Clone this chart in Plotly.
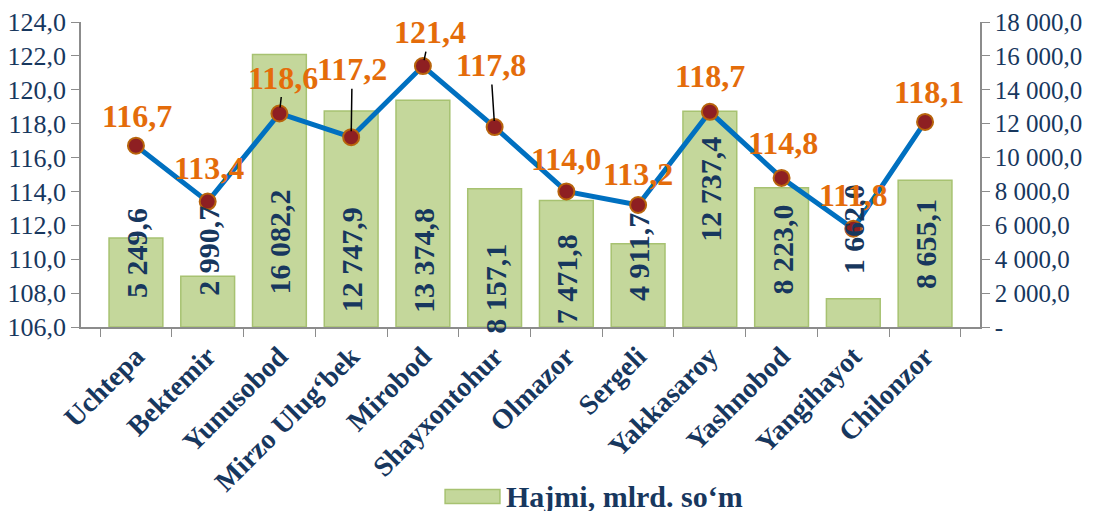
import plotly.graph_objects as go

# data
districts = ["Uchtepa", "Bektemir", "Yunusobod", "Mirzo Ulug‘bek", "Mirobod", "Shayxontohur",
             "Olmazor", "Sergeli", "Yakkasaroy", "Yashnobod", "Yangihayot", "Chilonzor"]
volume = [5249.6, 2990.7, 16082.2, 12747.9, 13374.8, 8157.1,
          7471.8, 4911.7, 12737.4, 8223.0, 1662.0, 8655.1]
growth = [116.7, 113.4, 118.6, 117.2, 121.4, 117.8,
          114.0, 113.2, 118.7, 114.8, 111.8, 118.1]
left_ticks = [106, 108, 110, 112, 114, 116, 118, 120, 122, 124]
right_ticks = [0, 2000, 4000, 6000, 8000, 10000, 12000, 14000, 16000, 18000]
legend_name = "Hajmi, mlrd. so‘m"

NAVY = "#17375E"
ORANGE = "#E46C0A"
FONT = "Liberation Serif"


def fmt(v, dec=1):
    s = f"{v:,.{dec}f}"
    return s.replace(",", " ").replace(".", ",")


# label placement (pixels), style only
bar_label_shift = [74, 76, 85, 67, 67, 38, 48, 70, 138, 77, 98, 83]
line_label_dx = [1, 1, 4, 1, 7, -4, 0, 0, 0, 1, 0, 4]
line_label_dy = [-30, -34, -36, -68, -34, -62, -32, -31, -36, -35, -34, -30]
leader = [False, False, True, True, True, True, False, False, False, False, False, False]

fig = go.Figure()

fig.add_trace(go.Bar(
    x=districts, y=volume, name=legend_name, yaxis="y",
    width=0.75, showlegend=False,
    marker=dict(color="#C4D79B", line=dict(color="#A7C271", width=1.5)),
))

fig.add_trace(go.Scatter(
    x=districts, y=growth, yaxis="y2", mode="lines+markers", showlegend=False,
    line=dict(color="#0070C0", width=5),
    marker=dict(size=16, color="#8E1F22", line=dict(color="#B8640C", width=2)),
))

annotations = []
for i, d in enumerate(districts):
    annotations.append(dict(
        x=d, y=0, xref="x", yref="y", text="<b>" + fmt(volume[i]) + "</b>",
        textangle=-90, showarrow=False, xanchor="center", yanchor="middle",
        yshift=bar_label_shift[i], font=dict(family=FONT, size=30, color=NAVY),
    ))
    annotations.append(dict(
        x=d, y=growth[i], xref="x", yref="y2", text="<b>" + fmt(growth[i]) + "</b>",
        showarrow=True, arrowhead=0, arrowwidth=1.5, standoff=6,
        arrowcolor="black" if leader[i] else "rgba(0,0,0,0)",
        ax=line_label_dx[i], ay=line_label_dy[i],
        font=dict(family=FONT, size=32, color=ORANGE),
    ))

# legend drawn by hand so the swatch is a wide bar
annotations.append(dict(
    x=0.471, y=-0.556, xref="paper", yref="paper", text="<b>" + legend_name + "</b>",
    showarrow=False, xanchor="left", yanchor="middle",
    font=dict(family=FONT, size=30, color=NAVY),
))

fig.update_layout(
    width=1108, height=511,
    margin=dict(l=73, r=136, t=14, b=192, autoexpand=False),
    plot_bgcolor="white", paper_bgcolor="white",
    bargap=0.25,
    font=dict(family=FONT, color=NAVY),
    xaxis=dict(
        tickangle=-45, tickson="boundaries", ticks="outside", ticklen=8,
        tickcolor="#8C8C8C", showline=True, linecolor="#8C8C8C", linewidth=1.5,
        tickfont=dict(family=FONT, size=28, color=NAVY, weight="bold"),
        automargin=False,
    ),
    yaxis=dict(
        side="right", range=[0, 18000], tickvals=right_ticks,
        ticktext=["-" if v == 0 else fmt(v) for v in right_ticks],
        showgrid=False, zeroline=False, showline=True, linecolor="#8C8C8C", linewidth=1.5,
        ticks="outside", ticklen=8, tickcolor="#8C8C8C",
        tickfont=dict(family=FONT, size=25, color=NAVY), automargin=False,
    ),
    yaxis2=dict(
        side="left", overlaying="y", range=[106, 124], tickvals=left_ticks,
        ticktext=[fmt(v) for v in left_ticks],
        showgrid=False, zeroline=False, showline=True, linecolor="#8C8C8C", linewidth=1.5,
        ticks="outside", ticklen=8, tickcolor="#8C8C8C",
        tickfont=dict(family=FONT, size=26, color=NAVY), automargin=False,
    ),
    annotations=annotations,
    shapes=[dict(
        type="rect", xref="paper", yref="paper",
        x0=0.405, x1=0.466, y0=-0.579, y1=-0.533,
        fillcolor="#C4D79B", line=dict(color="#A7C271", width=1.5),
    )],
)

fig.write_html("out.html")
